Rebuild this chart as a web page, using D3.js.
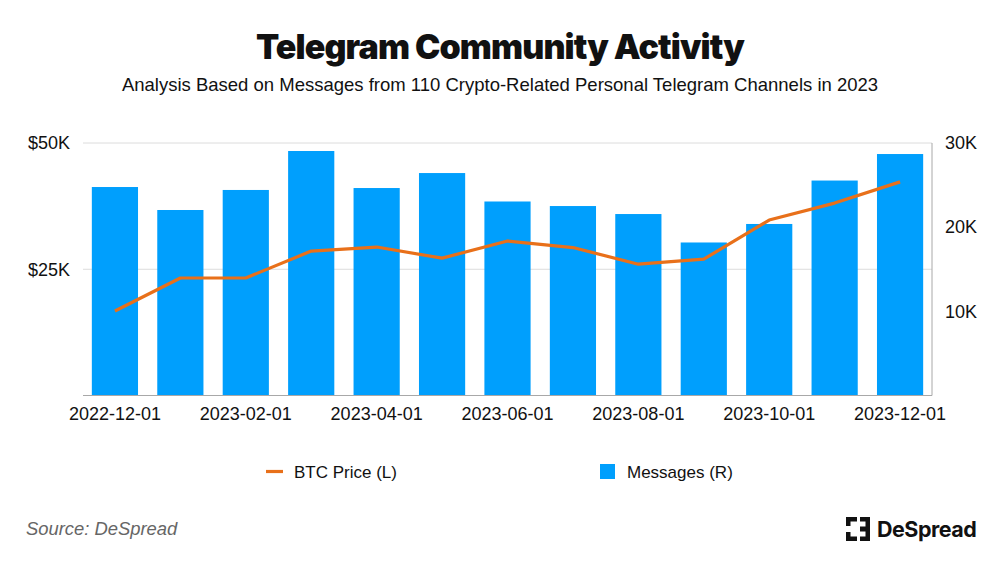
<!DOCTYPE html>
<html>
<head>
<meta charset="utf-8">
<script src="https://d3js.org/d3.v7.min.js"></script>
<style>
    html, body { margin: 0; padding: 0; background: #fff; }
    text { font-family: "Liberation Sans", Arial, sans-serif; fill: #111; }
    .domain { display: none; }
    .tick line { display: none; }
</style>
</head>
<body>
<div id="chart"></div>
<script>
const months = ["2022-12-01", "2023-01-01", "2023-02-01", "2023-03-01", "2023-04-01", "2023-05-01", "2023-06-01",
    "2023-07-01", "2023-08-01", "2023-09-01", "2023-10-01", "2023-11-01", "2023-12-01"];
const messages = [24770, 22040, 24420, 29050, 24650, 26430, 23050, 22510, 21560, 18180, 20380, 25540, 28690];
const btcPrice = [16730, 23270, 23270, 28600, 29400, 27200, 30600, 29300, 26000, 27000, 34750, 38100, 42300];
const leftTicks = [25000, 50000];
const rightTicks = [10000, 20000, 30000];

const w = 1000;
const h = 563;

const margin = {
    top: 143,
    right: 68,
    bottom: 167.5,
    left: 83
};

const width = w - margin.left - margin.right;
const height = h - margin.top - margin.bottom;

const svg = d3.select("#chart")
    .append("svg")
    .attr("width", w)
    .attr("height", h)
    .style("display", "block");

const g = svg.append("g")
    .attr("transform", "translate(" + margin.left + "," + margin.top + ")");

const x = d3.scaleBand()
    .domain(months)
    .range([0, width])
    .paddingInner(0.294)
    .paddingOuter(0.135);

const yLeft = d3.scaleLinear().domain([0, 50000]).range([height, 0]);
const yRight = d3.scaleLinear().domain([0, 30000]).range([height, 0]);

// gridlines sit behind the bars
g.selectAll("line.grid")
    .data(leftTicks)
    .enter()
    .append("line")
    .attr("class", "grid")
    .attr("x1", 0)
    .attr("x2", width)
    .attr("y1", d => yLeft(d))
    .attr("y2", d => yLeft(d))
    .style("stroke", "#dcdcdc")
    .style("stroke-width", 1);

g.selectAll("rect.bar")
    .data(messages)
    .enter()
    .append("rect")
    .attr("class", "bar")
    .attr("x", (d, i) => x(months[i]))
    .attr("y", d => yRight(d))
    .attr("width", x.bandwidth())
    .attr("height", d => height - yRight(d))
    .style("fill", "#009ffd");

// chart frame: bottom and right only
g.append("path")
    .attr("d", d3.line()([[0, height], [width, height], [width, yRight(30000)]]))
    .style("fill", "none")
    .style("stroke", "#a8a8a8")
    .style("stroke-width", 1);

const line = d3.line()
    .x((d, i) => x(months[i]) + x.bandwidth() / 2)
    .y(d => yLeft(d));

g.append("path")
    .datum(btcPrice)
    .attr("d", line)
    .style("fill", "none")
    .style("stroke", "#e8701a")
    .style("stroke-width", 3.2)
    .style("stroke-linejoin", "round");

// axes
const fmtK = d => (d / 1000) + "K";

const axisLeft = g.append("g")
    .call(d3.axisLeft(yLeft).tickValues(leftTicks).tickFormat(d => "$" + fmtK(d)).tickSize(0).tickPadding(13));
axisLeft.selectAll("text").style("font-size", "18px");

const axisRight = g.append("g")
    .attr("transform", "translate(" + width + ",0)")
    .call(d3.axisRight(yRight).tickValues(rightTicks).tickFormat(fmtK).tickSize(0).tickPadding(13));
axisRight.selectAll("text").style("font-size", "18px");

const axisBottom = g.append("g")
    .attr("transform", "translate(0," + height + ")")
    .call(d3.axisBottom(x).tickValues(months.filter((d, i) => i % 2 === 0)).tickSize(0).tickPadding(12));
axisBottom.selectAll("text").style("font-size", "18px");

// title block
svg.append("text")
    .attr("x", 500)
    .attr("y", 59)
    .attr("text-anchor", "middle")
    .style("font-family", "Inter, sans-serif")
    .style("font-weight", 900)
    .style("font-size", "34px")
    .style("letter-spacing", "-0.9px")
    .text("Telegram Community Activity");

svg.append("text")
    .attr("x", 500)
    .attr("y", 91)
    .attr("text-anchor", "middle")
    .style("font-size", "18.5px")
    .text("Analysis Based on Messages from 110 Crypto-Related Personal Telegram Channels in 2023");

// legend
svg.append("line")
    .attr("x1", 266)
    .attr("x2", 283)
    .attr("y1", 471.5)
    .attr("y2", 471.5)
    .style("stroke", "#e8701a")
    .style("stroke-width", 3.2);

svg.append("text")
    .attr("x", 294)
    .attr("y", 478)
    .style("font-size", "17px")
    .text("BTC Price (L)");

svg.append("rect")
    .attr("x", 600)
    .attr("y", 464)
    .attr("width", 15)
    .attr("height", 15)
    .style("fill", "#009ffd");

svg.append("text")
    .attr("x", 627)
    .attr("y", 478)
    .style("font-size", "17px")
    .text("Messages (R)");

// source
svg.append("text")
    .attr("x", 26)
    .attr("y", 535)
    .style("font-size", "18.4px")
    .style("font-style", "italic")
    .style("fill", "#666")
    .text("Source: DeSpread");

// logo
const logo = svg.append("g").attr("transform", "translate(846,517)");
const logoParts = [
    [0, 0, 11, 4.5], [0, 0, 4.5, 9], [0, 15, 4.5, 9], [0, 19.5, 11, 4.5],
    [14, 0, 10, 4.5], [14, 9.5, 10, 5], [14, 19.5, 10, 4.5], [19.5, 0, 4.5, 24]
];
logo.selectAll("rect")
    .data(logoParts)
    .enter()
    .append("rect")
    .attr("x", d => d[0])
    .attr("y", d => d[1])
    .attr("width", d => d[2])
    .attr("height", d => d[3])
    .style("fill", "#111");

svg.append("text")
    .attr("x", 877)
    .attr("y", 537)
    .style("font-family", "Inter, sans-serif")
    .style("font-weight", 700)
    .style("font-size", "21.5px")
    .style("letter-spacing", "-0.5px")
    .text("DeSpread");
</script>
</body>
</html>
